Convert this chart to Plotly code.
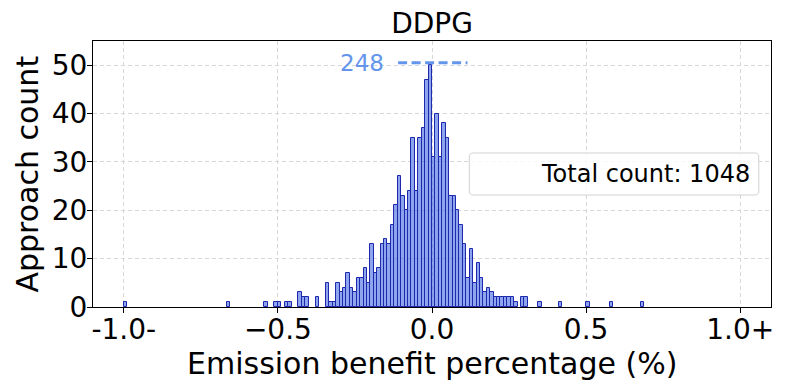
import numpy as np
import plotly.graph_objects as go

# Histogram of emission benefit (%) for the DDPG approaches
# 180 bins between -1 and 1, values outside the range end up in the edge bins
n_bins = 180
bin_index = [0, 30, 41, 44, 45, 47, 48, 51, 52, 53, 56,
             59, 60, 61, 62, 63, 64, 65, 66, 67, 68, 69, 70, 71, 72, 73, 74,
             75, 76, 77, 78, 79, 80, 81, 82, 83, 84, 85, 86, 87, 88, 89,
             90, 91, 92, 93, 94, 95, 96, 97, 98, 99, 100, 101, 102, 103, 104,
             105, 106, 107, 108, 109, 110, 111, 112, 113, 114, 116, 117,
             121, 127, 135, 142, 151]
bin_count = [1, 1, 1, 1, 1, 1, 1, 3, 2, 2, 2,
             5, 1, 1, 5, 3, 4, 7, 4, 3, 6, 6, 8, 5, 13, 7, 8,
             13, 14, 13, 17, 21, 27, 23, 20, 24, 35, 24, 35, 37, 47, 248,
             31, 40, 31, 38, 35, 23, 23, 20, 17, 13, 6, 12, 5, 9, 6,
             3, 4, 3, 2, 2, 2, 2, 2, 2, 1, 2, 2,
             1, 1, 1, 1, 1]

y_cap = 50            # tall bar is cut at this height
peak_count = 248      # real height of the cut bar
total_count = 1048

x_ticks = [-1.0, -0.5, 0.0, 0.5, 1.0]
x_tick_text = ['-1.0-', '\u22120.5', '0.0', '0.5', '1.0+']
y_ticks = [0, 10, 20, 30, 40, 50]

FONT = 'DejaVu Sans'

# bin geometry
edges = np.linspace(-1, 1, n_bins + 1)
bin_w = edges[1] - edges[0]
centers = (edges[:-1] + edges[1:]) / 2
x_vals = centers[bin_index]
y_vals = np.minimum(np.array(bin_count), y_cap)

fig = go.Figure()

fig.add_trace(go.Bar(
    x=x_vals,
    y=y_vals,
    width=bin_w,
    marker=dict(color='rgba(65,105,225,0.6)',
                line=dict(color='rgb(30,40,175)', width=1)),
    showlegend=False,
    hoverinfo='x+y'
))

# dashed marker for the cut bar and its real count
fig.add_shape(type='line', xref='x', yref='y',
              x0=-0.11, x1=0.115, y0=y_cap + 0.5, y1=y_cap + 0.5,
              line=dict(color='#6495ED', width=3, dash='9px,4.5px'))
fig.add_annotation(x=-0.15, y=y_cap + 0.5, xref='x', yref='y',
                   text=str(peak_count), showarrow=False,
                   xanchor='right', yanchor='middle',
                   font=dict(family=FONT, size=23, color='#6495ED'))

# legend-like box with the total count
x0, x1, y0, y1 = 0.555, 0.982, 0.421, 0.579
rx, ry = 0.006, 0.015
path = (f'M {x0+rx},{y0} L {x1-rx},{y0} Q {x1},{y0} {x1},{y0+ry} '
        f'L {x1},{y1-ry} Q {x1},{y1} {x1-rx},{y1} '
        f'L {x0+rx},{y1} Q {x0},{y1} {x0},{y1-ry} '
        f'L {x0},{y0+ry} Q {x0},{y0} {x0+rx},{y0} Z')
fig.add_shape(type='path', xref='paper', yref='paper', path=path,
              fillcolor='rgba(255,255,255,0.8)',
              line=dict(color='rgb(210,210,210)', width=1), layer='above')
fig.add_annotation(x=0.972, y=0.5, xref='paper', yref='paper',
                   text=f'Total count: {total_count}', showarrow=False,
                   xanchor='right', yanchor='middle',
                   font=dict(family=FONT, size=24, color='black'))

# axis titles
fig.add_annotation(x=0.5, y=-0.213, xref='paper', yref='paper',
                   text='Emission benefit percentage (%)', showarrow=False,
                   xanchor='center', yanchor='middle',
                   font=dict(family=FONT, size=30, color='black'))
fig.add_annotation(x=-0.098, y=0.5, xref='paper', yref='paper',
                   text='Approach count', showarrow=False, textangle=-90,
                   xanchor='center', yanchor='middle',
                   font=dict(family=FONT, size=30, color='black'))

grid = dict(showgrid=True, gridcolor='rgb(215,215,215)', griddash='4px,3px', gridwidth=1)

fig.update_layout(
    width=787, height=390,
    margin=dict(l=93, r=16, t=41, b=83),
    plot_bgcolor='white', paper_bgcolor='white',
    font=dict(family=FONT, color='black'),
    bargap=0,
    title=dict(text='DDPG', x=0.5, xref='paper', y=0.94, yanchor='middle',
               font=dict(family=FONT, size=28, color='black')),
    xaxis=dict(range=[-1.1, 1.1], tickvals=x_ticks, ticktext=x_tick_text,
               tickfont=dict(size=28), ticks='outside', ticklen=5, tickcolor='black',
               ticklabelstandoff=-8, automargin=False,
               showline=True, linecolor='black', linewidth=1, mirror=True,
               zeroline=False, **grid),
    yaxis=dict(range=[0, 55], tickvals=y_ticks,
               tickfont=dict(size=28), ticks='outside', ticklen=5, tickcolor='black',
               ticklabelstandoff=-6, automargin=False,
               showline=True, linecolor='black', linewidth=1, mirror=True,
               zeroline=False, **grid),
)

# page body has a default 8px margin, drop it so the figure fills the window
fig.write_html('out.html', config={'displayModeBar': False},
               post_script="document.body.style.margin='0';")
